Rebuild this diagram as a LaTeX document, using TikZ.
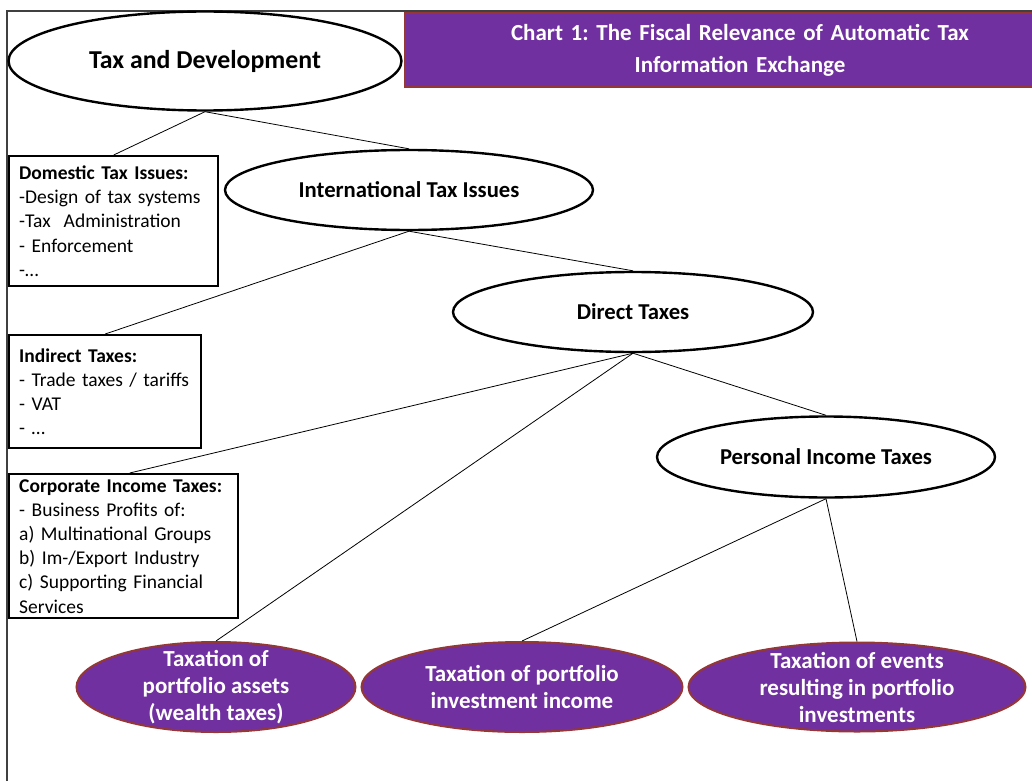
\documentclass[tikz,border=0pt]{standalone}
\usepackage{fontspec}
\setmainfont{Carlito}
\frenchspacing
\usetikzlibrary{shapes.geometric}
\definecolor{chartpurple}{HTML}{7030A0}
\definecolor{chartbrown}{HTML}{953735}
\definecolor{framegray}{HTML}{404040}

\begin{document}
\begin{tikzpicture}[x=1pt,y=-1pt,
    topic/.style={draw,ellipse,line width=2.4pt,fill=white,inner sep=0pt,font=\bfseries\fontsize{22.7}{27}\selectfont},
    leaf/.style={draw=chartbrown,ellipse,line width=2pt,fill=chartpurple,text=white,inner xsep=0pt,inner ysep=-22pt,align=center,font=\bfseries\fontsize{23}{27}\selectfont},
    issues/.style={draw,line width=2.4pt,anchor=north west,align=left,inner xsep=10pt,inner ysep=0pt,font=\fontsize{19.5}{24.2}\selectfont}]
  \clip (0,0) rectangle (1032,781);
  \draw[framegray,line width=1.5pt] (7,781) -- (7,11) -- (1032,11);

  % ellipses of the tree
  \node[topic,minimum width=393,minimum height=99,font=\bfseries\fontsize{25.8}{30}\selectfont] (taxdev) at (205,61) {Tax and Development};
  \node[topic,minimum width=368,minimum height=80] (intl) at (409,190) {International Tax Issues};
  \node[topic,minimum width=360,minimum height=80] (direct) at (633,312) {Direct Taxes};
  \node[topic,minimum width=338,minimum height=81] (personal) at (826,457) {Personal Income Taxes};

  % title
  \node[draw=chartbrown,fill=chartpurple,line width=2pt,text=white,anchor=north west,align=center,
        text width=650,inner xsep=10pt,minimum height=74,font=\bfseries\fontsize{23}{32}\selectfont] (title) at (404,12)
        {Chart 1: The Fiscal Relevance of Automatic Tax\\Information Exchange};

  % boxes on the left
  \node[issues,text width=189,minimum height=130] (dom) at (8,155)
        {\textbf{Domestic Tax Issues:}\\-Design of tax systems\\-Tax\ \ Administration\\- Enforcement\\-\dots};
  \node[issues,text width=172,minimum height=113] (indirect) at (8,334)
        {\textbf{Indirect Taxes:}\\- Trade taxes / tariffs\\- VAT\\- \dots};
  \node[issues,text width=209,minimum height=144] (corp) at (8,473)
        {\textbf{Corporate Income Taxes:}\\- Business Profits of:\\a) Multinational Groups\\b) Im-/Export Industry\\c) Supporting Financial\\Services};

  % purple ellipses
  \node[leaf,minimum width=279,minimum height=90] (assets) at (216,687) {Taxation of\\portfolio assets\\(wealth taxes)};
  \node[leaf,minimum width=321,minimum height=90] (income) at (522,687) {Taxation of portfolio\\investment income};
  \node[leaf,minimum width=337,minimum height=89] (events) at (857,687) {Taxation of events\\resulting in portfolio\\investments};

  % connectors
  \draw[line width=0.8pt] (taxdev.south) -- (dom.north);
  \draw[line width=0.8pt] (taxdev.south) -- (intl.north);
  \draw[line width=0.8pt] (intl.south) -- (indirect.north);
  \draw[line width=0.8pt] (intl.south) -- (direct.north);
  \draw[line width=0.8pt] (direct.south) -- ([xshift=6pt]corp.north);
  \draw[line width=0.8pt] (direct.south) -- (assets.north);
  \draw[line width=0.8pt] (direct.south) -- (personal.north);
  \draw[line width=0.8pt] (personal.south) -- (income.north);
  \draw[line width=0.8pt] (personal.south) -- (events.north);
\end{tikzpicture}
\end{document}
